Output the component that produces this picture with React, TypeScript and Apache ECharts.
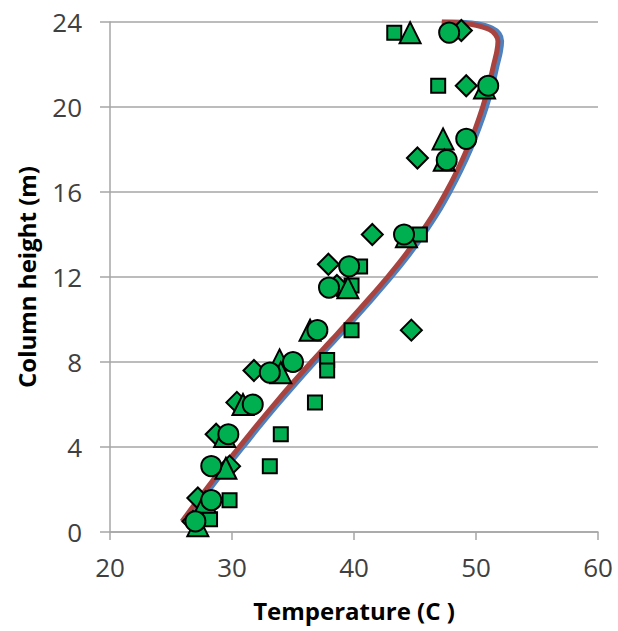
import React, { useEffect, useRef } from "react";
import * as echarts from "echarts";

// Measured data (Temperature in C, Column height in m)
const squareTemp = [43.3, 46.9, 45.4, 40.5, 39.8, 39.8, 37.8, 37.8, 36.8, 34.0, 33.1, 29.8, 28.2];
const squareHeight = [23.5, 21.0, 14.0, 12.5, 11.6, 9.5, 8.1, 7.6, 6.1, 4.6, 3.1, 1.5, 0.6];

const diamondTemp = [48.8, 49.2, 45.2, 41.5, 37.9, 38.6, 44.7, 31.8, 30.4, 28.7, 29.8, 27.2, 26.8];
const diamondHeight = [23.6, 21.0, 17.6, 14.0, 12.6, 11.6, 9.5, 7.6, 6.1, 4.6, 3.1, 1.6, 0.5];

const triangleTemp = [44.6, 50.7, 47.3, 47.4, 44.3, 39.5, 36.4, 33.9, 34.0, 30.9, 29.4, 29.5, 27.8, 27.2];
const triangleHeight = [23.5, 20.9, 18.5, 17.5, 13.9, 11.5, 9.5, 8.1, 7.5, 6.0, 4.5, 3.0, 1.4, 0.3];

const circleTemp = [47.8, 51.0, 49.2, 47.6, 44.1, 39.6, 37.95, 37.0, 35.0, 33.1, 31.7, 29.7, 28.3, 28.3, 27.0];
const circleHeight = [23.5, 21.0, 18.5, 17.5, 14.0, 12.5, 11.5, 9.5, 8.0, 7.5, 6.0, 4.6, 3.1, 1.5, 0.5];

const redTemp = [25.9, 27.2, 29.2, 30.6, 32.0, 33.45, 34.95, 36.5, 38.1, 39.7, 41.25, 42.75, 44.15, 45.4, 46.55, 47.55, 48.45, 49.25, 49.95, 50.55, 51.05, 51.45, 51.7, 51.8, 51.6, 51.1, 50.0, 48.8, 47.2];
const redHeight = [0.5, 1.5, 3.0, 4.0, 5.0, 6.0, 7.0, 8.0, 9.0, 10.0, 11.0, 12.0, 13.0, 14.0, 15.0, 16.0, 17.0, 18.0, 19.0, 20.0, 21.0, 22.0, 22.6, 23.1, 23.4, 23.65, 23.85, 23.95, 24.0];

const blueTemp = [26.2, 27.5, 29.5, 30.9, 32.3, 33.75, 35.25, 36.8, 38.4, 40.0, 41.55, 43.05, 44.45, 45.7, 46.85, 47.85, 48.75, 49.55, 50.25, 50.85, 51.35, 51.75, 52.0, 52.1, 51.9, 51.3, 50.1, 48.8, 47.2];
const blueHeight = [0.5, 1.5, 3.0, 4.0, 5.0, 6.0, 7.0, 8.0, 9.0, 10.0, 11.0, 12.0, 13.0, 14.0, 15.0, 16.0, 17.0, 18.0, 19.0, 20.0, 21.0, 22.0, 22.6, 23.1, 23.45, 23.72, 23.92, 24.0, 24.05];

const xTicks = { min: 20, max: 60, interval: 10 };
const yTicks = { min: 0, max: 24, interval: 4 };

const zip = (xs: number[], ys: number[]) => xs.map((x, i) => [x, ys[i]]);

export default function App() {
  const ref = useRef<HTMLDivElement>(null);
  useEffect(() => {
    if (!ref.current) return;
    const chart = echarts.init(ref.current, undefined, { renderer: "svg" });
    const gray = "#A6A6A6";
    const labelStyle = { fontSize: 26, fontFamily: "Open Sans", color: "#404040" };
    const nameStyle = { fontSize: 24, fontFamily: "Open Sans", fontWeight: "bold" as const, color: "#000" };
    const marker = (name: string, symbol: string, size: number, xs: number[], ys: number[], z: number) => ({
      name,
      type: "scatter",
      symbol,
      symbolSize: size,
      data: zip(xs, ys),
      z,
      itemStyle: { color: "#00B050", borderColor: "#000", borderWidth: 2, opacity: 1 },
    });
    chart.setOption({
      animation: false,
      grid: { left: 110, right: 20, top: 22, bottom: 99, containLabel: false },
      xAxis: {
        type: "value",
        min: xTicks.min,
        max: xTicks.max,
        interval: xTicks.interval,
        name: "Temperature (C )",
        nameLocation: "middle",
        nameGap: 66,
        nameTextStyle: nameStyle,
        axisLine: { show: true, lineStyle: { color: gray, width: 1.5 } },
        axisTick: { show: true, length: 8, lineStyle: { color: gray, width: 1.5 } },
        splitLine: { show: false },
        axisLabel: { ...labelStyle, margin: 22 },
      },
      yAxis: {
        type: "value",
        min: yTicks.min,
        max: yTicks.max,
        interval: yTicks.interval,
        name: "Column height (m)",
        nameLocation: "middle",
        nameGap: 72,
        nameTextStyle: nameStyle,
        axisLine: { show: true, lineStyle: { color: gray, width: 1.5 } },
        axisTick: { show: true, length: 10, lineStyle: { color: gray, width: 1.5 } },
        splitLine: { show: true, lineStyle: { color: gray, width: 1.5 } },
        axisLabel: { ...labelStyle, margin: 28 },
      },
      series: [
        {
          name: "Model B",
          type: "line",
          data: zip(blueTemp, blueHeight),
          showSymbol: false,
          symbol: "none",
          smooth: 0.3,
          z: 1,
          lineStyle: { color: "#4F81BD", width: 5 },
        },
        {
          name: "Model A",
          type: "line",
          data: zip(redTemp, redHeight),
          showSymbol: false,
          symbol: "none",
          smooth: 0.3,
          z: 2,
          lineStyle: { color: "#A8433F", width: 5 },
        },
        marker("Squares", "rect", 14, squareTemp, squareHeight, 3),
        marker("Diamonds", "diamond", 21, diamondTemp, diamondHeight, 4),
        marker("Triangles", "triangle", 21, triangleTemp, triangleHeight, 5),
        marker("Circles", "circle", 20, circleTemp, circleHeight, 6),
      ],
    });
    return () => chart.dispose();
  }, []);
  return <div ref={ref} style={{ position: "absolute", left: 0, top: 0, width: 618, height: 631 }} />;
}
